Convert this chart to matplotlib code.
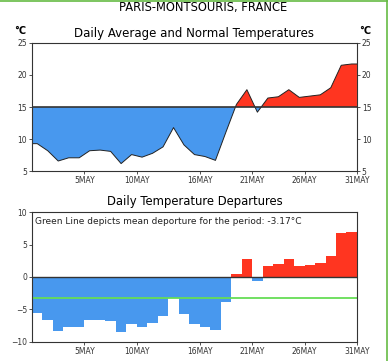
import matplotlib
matplotlib.use('Agg')
import matplotlib.pyplot as plt
import numpy as np
from matplotlib.lines import Line2D

# daily values for May (day 1..31)
days = np.arange(1, 32)
avg_temp = [9.3, 8.2, 6.6, 7.1, 7.1, 8.2, 8.3, 8.1, 6.2, 7.6, 7.2, 7.8, 8.8, 11.8, 9.1, 7.6,
            7.3, 6.7, 11.1, 15.4, 17.7, 14.2, 16.4, 16.6, 17.7, 16.5, 16.7, 16.9, 18.0, 21.5, 21.7]
normal_temp = 15.0
departures = [-5.5, -6.65, -8.3, -7.7, -7.7, -6.65, -6.65, -6.75, -8.55, -7.3, -7.7, -7.1, -6.1,
              -3.2, -5.7, -7.3, -7.7, -8.2, -3.9, 0.4, 2.85, -0.6, 1.7, 1.95, 2.85, 1.7, 1.85,
              2.1, 3.25, 6.75, 6.95]
mean_departure = -3.17
tick_days = [5, 10, 16, 21, 26, 31]
tick_labels = ['5MAY', '10MAY', '16MAY', '21MAY', '26MAY', '31MAY']

blue = '#4898ee'
red = '#ff3520'
green = '#66dd55'

fig = plt.figure(figsize=(3.88, 3.61), dpi=100)

# top panel: average vs normal
ax1 = fig.add_axes([0.0825, 0.5255, 0.8375, 0.356])
xs = np.concatenate([[0], days - 0.5, [31]])
ys = np.concatenate([[avg_temp[0]], avg_temp, [avg_temp[-1]]])
ax1.fill_between(xs, ys, normal_temp, where=ys <= normal_temp, interpolate=True, color=blue, lw=0)
ax1.fill_between(xs, ys, normal_temp, where=ys >= normal_temp, interpolate=True, color=red, lw=0)
ax1.plot(xs, ys, color='#222222', lw=0.7)
ax1.axhline(normal_temp, color='#333333', lw=1.2)
ax1.set_xlim(0, 31)
ax1.set_ylim(5, 25)
ax1.set_yticks([5, 10, 15, 20, 25])
ax1.set_xticks(tick_days)
ax1.set_xticklabels(tick_labels)
ax1.tick_params(labelsize=5.5, length=2.5, width=0.6, pad=1, colors='#333333',
                right=True, labelright=True)

# bottom panel: departures
ax2 = fig.add_axes([0.0825, 0.0535, 0.8375, 0.3584])
dep = np.array(departures)
bar_colors = [red if d > 0 else blue for d in dep]
ax2.bar(days - 1, dep, width=1, align='edge', color=bar_colors, lw=0)
ax2.axhline(0, color='#333333', lw=1.0)
ax2.axhline(mean_departure, color=green, lw=1.3)
ax2.set_xlim(0, 31)
ax2.set_ylim(-10, 10)
ax2.set_yticks([-10, -5, 0, 5, 10])
ax2.set_xticks(tick_days)
ax2.set_xticklabels(tick_labels)
ax2.tick_params(labelsize=5.5, length=2.5, width=0.6, pad=1, colors='#333333')
ax2.text(0.008, 0.965, 'Green Line depicts mean deporture for the period: %.2f°C' % mean_departure,
         transform=ax2.transAxes, ha='left', va='top', fontsize=6.5, color='#222222')

for ax in (ax1, ax2):
    for s in ax.spines.values():
        s.set_linewidth(0.8)
        s.set_color('#333333')

fig.text(0.523, 0.980, 'PARIS-MONTSOURIS, FRANCE', ha='center', va='center', fontsize=8.3)
fig.text(0.500, 0.906, 'Daily Average and Normal Temperatures', ha='center', va='center', fontsize=8.5)
fig.text(0.503, 0.441, 'Daily Temperature Departures', ha='center', va='center', fontsize=8.4)
fig.text(0.052, 0.914, '°C', ha='center', va='center', fontsize=7, fontweight='bold')
fig.text(0.940, 0.914, '°C', ha='center', va='center', fontsize=7, fontweight='bold')

# green frame at top and right
fig.add_artist(Line2D([0, 1], [0.998, 0.998], transform=fig.transFigure, color='#66bb44', lw=1.2))
fig.add_artist(Line2D([0.997, 0.997], [0, 1], transform=fig.transFigure, color='#66bb44', lw=1.2))

fig.savefig('out.png', dpi=100)
